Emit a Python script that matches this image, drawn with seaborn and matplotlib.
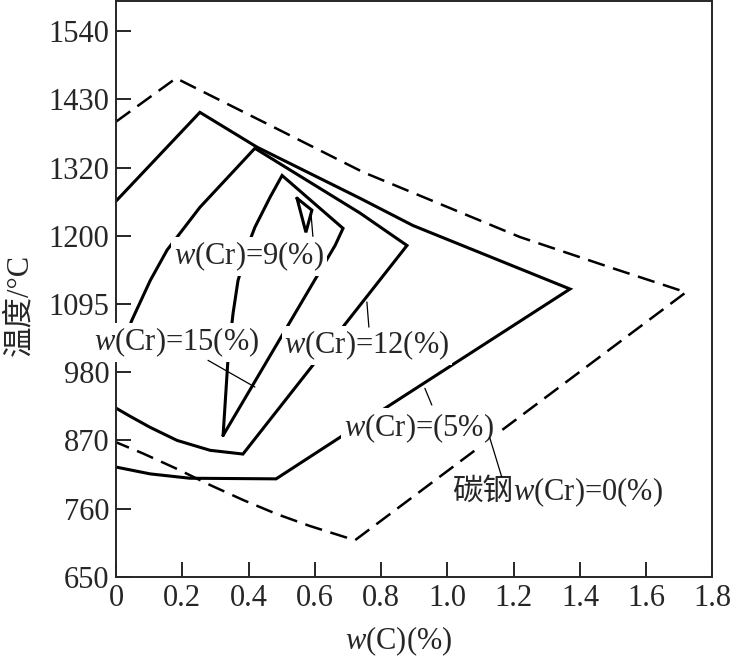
import numpy as np
import matplotlib
matplotlib.use("Agg")
import matplotlib.pyplot as plt
import seaborn as sns

# axis ticks (temperature ticks are evenly spaced on the chart although the steps differ)
temp_ticks = [650, 760, 870, 980, 1095, 1200, 1320, 1430, 1540]
c_ticks = [0, 0.2, 0.4, 0.6, 0.8, 1.0, 1.2, 1.4, 1.6, 1.8]
c_tick_labels = ['0', '0.2', '0.4', '0.6', '0.8', '1.0', '1.2', '1.4', '1.6', '1.8']

# carbon steel w(Cr)=0
steel_c = [0.0, 0.181, 0.465, 0.745, 1.219, 1.499, 1.720, 0.721, 0.585, 0.486, 0.383, 0.284, 0.184, 0.081, 0.0]
steel_t = [1394, 1464, 1388, 1312, 1198, 1150, 1113, 709, 732, 751, 774, 798, 824, 849, 867]

# w(Cr)=5%
cr5_c = [0.0, 0.253, 0.425, 0.736, 0.896, 1.370, 0.821, 0.676, 0.483, 0.223, 0.103, 0.0]
cr5_t = [1261, 1409, 1353, 1266, 1218, 1118, 925, 875, 808, 809, 816, 827]

# w(Cr)=12%
cr12_c = [0.0, 0.048, 0.103, 0.154, 0.253, 0.419, 0.736, 0.878, 0.383, 0.284, 0.184, 0.103, 0.042, 0.0]
cr12_t = [1000, 1068, 1131, 1178, 1250, 1351, 1240, 1185, 848, 854, 870, 891, 909, 922]

# w(Cr)=15%
cr15_c = [0.323, 0.338, 0.353, 0.368, 0.404, 0.419, 0.465, 0.501, 0.685, 0.661, 0.323]
cr15_t = [878, 1004, 1079, 1131, 1193, 1215, 1268, 1306, 1213, 1185, 878]

# w(Cr)=9%
cr9_c = [0.546, 0.591, 0.573, 0.546]
cr9_t = [1266, 1245, 1206, 1266]

sns.set_style('ticks')
plt.rcParams['font.family'] = ['Liberation Serif', 'Noto Sans CJK SC']
plt.rcParams['mathtext.fontset'] = 'custom'
plt.rcParams['mathtext.rm'] = 'Liberation Serif'
plt.rcParams['mathtext.it'] = 'Liberation Serif:italic'

fig = plt.figure(figsize=(7.3, 6.57), dpi=100)
ax = fig.add_axes([0.159, 0.122, 0.817, 0.876])

solid = dict(color='black', linewidth=2.2, solid_joinstyle='miter', ax=ax,
             sort=False, estimator=None)
sns.lineplot(x=steel_c, y=steel_t, color='black', linewidth=1.8, linestyle=(0, (7, 3.5)),
             dash_joinstyle='miter', sort=False, estimator=None, ax=ax)
sns.lineplot(x=cr5_c, y=cr5_t, **solid)
sns.lineplot(x=cr12_c, y=cr12_t, **solid)
sns.lineplot(x=cr15_c, y=cr15_t, **solid)
sns.lineplot(x=cr9_c, y=cr9_t, **solid)

# uneven temperature axis: equal spacing between tick values
idx = np.arange(len(temp_ticks))
ext_t = np.r_[temp_ticks[0] - 110, temp_ticks, temp_ticks[-1] + 110]
ext_i = np.r_[-1, idx, len(idx)]


def fwd(t):
    return np.interp(t, ext_t, ext_i)


def inv(i):
    return np.interp(i, ext_i, ext_t)


ax.set_yscale('function', functions=(fwd, inv))
ax.set_ylim(650, 1588)
ax.set_xlim(0, 1.8)
ax.set_yticks(temp_ticks)
ax.set_yticklabels([str(t) for t in temp_ticks])
ax.set_xticks(c_ticks)
ax.set_xticklabels(c_tick_labels)
ax.minorticks_off()
ax.tick_params(direction='in', length=11, width=1.4, labelsize=22, pad=5,
               top=False, right=False)
for s in ax.spines.values():
    s.set_linewidth(1.4)
ax.set_xlabel('')
ax.set_ylabel('')

box = dict(facecolor='white', edgecolor='none', pad=2)
fs = 22
ax.text(0.401, 1168, '$w$(Cr)=9(%)', fontsize=fs, ha='center', va='center', bbox=box, zorder=3)
ax.text(0.184, 1030, '$w$(Cr)=15(%)', fontsize=fs, ha='center', va='center', bbox=box, zorder=3)
ax.text(0.757, 1025, '$w$(Cr)=12(%)', fontsize=fs, ha='center', va='center', bbox=box, zorder=3)
ax.text(0.914, 890, '$w$(Cr)=(5%)', fontsize=fs, ha='center', va='center', bbox=box, zorder=3)
ax.text(1.198, 774, '碳钢', fontsize=fs, ha='right', va='baseline', zorder=3)
ax.text(1.198, 774, '$w$(Cr)=0(%)', fontsize=fs, ha='left', va='baseline', zorder=3)

# leader lines
pk = dict(color='black', linewidth=0.9, zorder=4)
ax.plot([0.594, 0.588], [1199, 1241], **pk)
ax.plot([0.2775, 0.419], [1000, 956], **pk)
ax.plot([0.763, 0.757], [1056, 1098], **pk)
ax.plot([0.953, 0.932], [927, 954], **pk)
ax.plot([1.164, 1.128], [811, 874], **pk)

fig.text(399 / 730, 1 - 641 / 657, '$w$(C)(%)', fontsize=fs, ha='center', va='center')
fig.text(20 / 730, 1 - 305 / 657, '温度/°C', fontsize=fs, ha='center', va='center', rotation=90)

fig.savefig('out.png', dpi=100)
